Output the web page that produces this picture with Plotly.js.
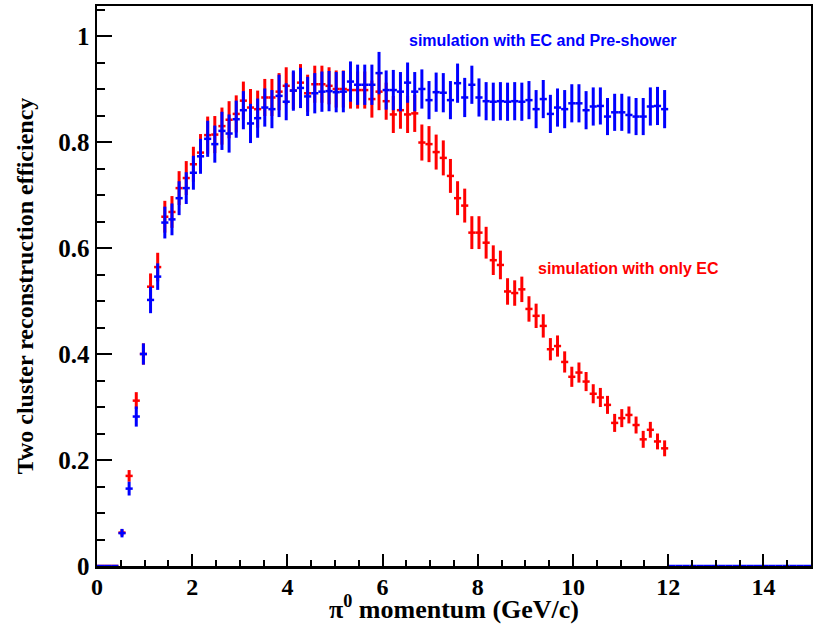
<!DOCTYPE html>
<html>
<head>
<meta charset="utf-8">
<script src="https://cdn.plot.ly/plotly-3.0.1.min.js"></script>
<style>html,body{margin:0;padding:0;background:#fff;}#chart{width:813px;height:624px;}</style>
</head>
<body>
<div id="chart"></div>
<script>
// Histogram binning: 100 bins of 0.15 GeV/c from 0 to 15
const nBins = 100;
const xMin = 0;
const xMax = 15;

// Efficiency, simulation with only EC (bins 1..80)
const onlyEC = [0,0,0,0.063,0.170,0.312,0.400,0.527,0.564,0.659,
  0.668,0.713,0.732,0.758,0.780,0.813,0.814,0.830,0.842,0.853,
  0.878,0.865,0.862,0.884,0.884,0.895,0.906,0.897,0.912,0.892,
  0.909,0.909,0.906,0.900,0.900,0.898,0.898,0.898,0.881,0.895,
  0.877,0.852,0.860,0.852,0.854,0.799,0.796,0.781,0.770,0.736,
  0.694,0.680,0.629,0.629,0.610,0.577,0.568,0.518,0.515,0.522,
  0.485,0.472,0.453,0.409,0.415,0.385,0.357,0.365,0.348,0.325,
  0.318,0.304,0.270,0.279,0.285,0.266,0.239,0.257,0.235,0.222];
const onlyECErr = [0,0,0,0.006,0.011,0.016,0.020,0.025,0.027,0.030,
  0.030,0.032,0.032,0.033,0.035,0.035,0.035,0.035,0.035,0.035,
  0.036,0.035,0.035,0.035,0.035,0.035,0.035,0.035,0.035,0.035,
  0.035,0.035,0.035,0.035,0.035,0.035,0.035,0.035,0.035,0.035,
  0.035,0.035,0.035,0.035,0.035,0.034,0.034,0.033,0.033,0.032,
  0.032,0.032,0.031,0.031,0.030,0.028,0.027,0.025,0.024,0.024,
  0.024,0.023,0.022,0.021,0.020,0.020,0.019,0.019,0.018,0.018,
  0.018,0.017,0.017,0.017,0.016,0.016,0.016,0.015,0.015,0.015];

// Efficiency, simulation with EC and Pre-shower (bins 1..100)
const withPS = [0,0,0,0.062,0.146,0.282,0.400,0.502,0.546,0.648,
  0.654,0.694,0.713,0.742,0.773,0.806,0.796,0.821,0.816,0.843,
  0.860,0.835,0.845,0.865,0.862,0.887,0.876,0.897,0.902,0.886,
  0.892,0.895,0.896,0.894,0.895,0.914,0.908,0.908,0.908,0.930,
  0.898,0.898,0.895,0.912,0.895,0.900,0.879,0.894,0.893,0.879,
  0.911,0.884,0.908,0.884,0.877,0.876,0.877,0.876,0.877,0.876,
  0.879,0.862,0.881,0.853,0.865,0.862,0.873,0.873,0.860,0.867,
  0.868,0.848,0.856,0.856,0.851,0.848,0.848,0.867,0.868,0.862,
  0,0,0,0,0,0,0,0,0,0,
  0,0,0,0,0,0,0,0,0,0];
const withPSErr = [0,0,0,0.008,0.013,0.019,0.020,0.025,0.025,0.030,
  0.030,0.032,0.030,0.032,0.033,0.034,0.035,0.036,0.036,0.035,
  0.036,0.037,0.037,0.036,0.036,0.040,0.035,0.038,0.038,0.037,
  0.038,0.038,0.038,0.038,0.039,0.038,0.038,0.038,0.038,0.040,
  0.037,0.038,0.037,0.038,0.037,0.037,0.036,0.037,0.037,0.036,
  0.037,0.037,0.036,0.036,0.036,0.036,0.036,0.036,0.036,0.036,
  0.036,0.036,0.036,0.036,0.036,0.036,0.036,0.036,0.036,0.036,
  0.035,0.035,0.035,0.035,0.035,0.035,0.035,0.036,0.036,0.036,
  0,0,0,0,0,0,0,0,0,0,
  0,0,0,0,0,0,0,0,0,0];

const xTitle = 'π<sup>0</sup> momentum (GeV/c)';
const yTitle = 'Two cluster reconstruction efficiency';
const labelPS = 'simulation with EC and Pre-shower';
const labelEC = 'simulation with only EC';

const yMaxRange = 1.0566;
const binW = (xMax - xMin) / nBins;
const centers = [];
for (let i = 0; i < nBins; i++) centers.push(xMin + (i + 0.5) * binW);
const halfW = centers.map(() => binW / 2);

function histTrace(vals, errs, color) {
  return {
    type: 'scatter', mode: 'markers',
    x: centers.slice(0, vals.length), y: vals,
    marker: {size: 1, color: color},
    error_y: {type: 'data', array: errs, visible: true, color: color, thickness: 3, width: 0},
    error_x: {type: 'data', array: halfW.slice(0, vals.length), visible: true, color: color, thickness: 2.5, width: 0},
    showlegend: false, hoverinfo: 'skip'
  };
}

// empty traces that only create the overlay subplots carrying the tick marks
function tickHolder(xa, ya) {
  return {type: 'scatter', mode: 'markers', x: [], y: [], xaxis: xa, yaxis: ya, showlegend: false, hoverinfo: 'skip'};
}

const data = [
  histTrace(onlyEC, onlyECErr, '#ff0000'),
  histTrace(withPS, withPSErr, '#0000ff'),
  tickHolder('x2', 'y2'),
  tickHolder('x3', 'y3')
];

function tickAxis(range, dtick, len, overlay, anchor) {
  return {
    range: range, dtick: dtick, tick0: 0, overlaying: overlay, anchor: anchor,
    ticks: 'inside', ticklen: len, tickwidth: 2, tickcolor: '#000',
    showticklabels: false, showline: false, showgrid: false, zeroline: false
  };
}

const serif = 'Liberation Serif, Times New Roman, serif';
const sans = 'Liberation Sans, Arial, sans-serif';
const layout = {
  width: 813, height: 624,
  margin: {l: 97, r: 2, t: 6, b: 58},
  paper_bgcolor: '#ffffff', plot_bgcolor: '#ffffff',
  showlegend: false,
  xaxis: {
    range: [xMin, xMax], dtick: 2, ticks: '',
    showline: true, linecolor: '#000', linewidth: 2.5, mirror: true,
    showgrid: false, zeroline: false,
    ticklabelstandoff: -2,
    tickfont: {family: serif, size: 24, color: '#000', weight: 'bold'},
    title: {text: xTitle, font: {family: serif, size: 26, color: '#000', weight: 'bold'}, standoff: 2}
  },
  yaxis: {
    range: [0, yMaxRange], dtick: 0.2, ticks: '',
    showline: true, linecolor: '#000', linewidth: 2.5, mirror: true,
    showgrid: false, zeroline: false,
    tickfont: {family: serif, size: 25, color: '#000', weight: 'bold'},
    title: {text: yTitle, font: {family: serif, size: 24, color: '#000', weight: 'bold'}, standoff: 18}
  },
  xaxis2: Object.assign(tickAxis([xMin, xMax], 2, 12, 'x', 'y2'), {side: 'bottom'}),
  yaxis2: Object.assign(tickAxis([0, yMaxRange], 0.2, 15, 'y', 'x2'), {side: 'left'}),
  xaxis3: Object.assign(tickAxis([xMin, xMax], 0.5, 6, 'x', 'y3'), {side: 'bottom'}),
  yaxis3: Object.assign(tickAxis([0, yMaxRange], 0.05, 8, 'y', 'x3'), {side: 'left'}),
  annotations: [
    {x: 6.51, y: 0.992, xref: 'x', yref: 'y', xanchor: 'left', yanchor: 'middle', showarrow: false,
     text: labelPS, font: {family: sans, size: 16, color: '#0000ff', weight: 'bold'}},
    {x: 9.23, y: 0.562, xref: 'x', yref: 'y', xanchor: 'left', yanchor: 'middle', showarrow: false,
     text: labelEC, font: {family: sans, size: 16, color: '#ff0000', weight: 'bold'}}
  ]
};

Plotly.newPlot('chart', data, layout, {staticPlot: true, displayModeBar: false});
</script>
</body>
</html>
